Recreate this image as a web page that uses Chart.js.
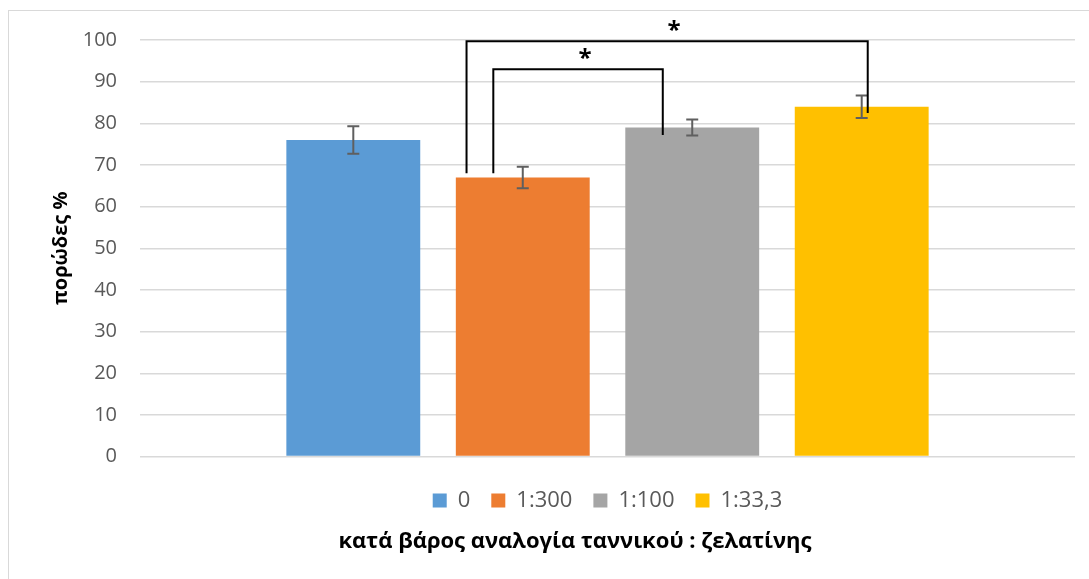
<!DOCTYPE html>
<html>
<head>
<meta charset="utf-8">
<script src="https://cdn.jsdelivr.net/npm/chart.js@4.4.1/dist/chart.umd.min.js"></script>
<style>
  body { margin: 0; background: #fff; }
  #wrap { position: relative; width: 1089px; height: 579px; overflow: hidden; }
  #frame { position: absolute; left: 8px; top: 10px; width: 1200px; height: 700px;
           border-left: 1px solid #d9d9d9; border-top: 1px solid #d9d9d9; }
  canvas { position: absolute; left: 0; top: 0; }
</style>
</head>
<body>
<div id="wrap">
  <div id="frame"></div>
  <canvas id="chart" width="1089" height="579"></canvas>
</div>
<script>
// Data
const categories = [''];
const seriesNames = ['0', '1:300', '1:100', '1:33,3'];
const porosity = [76, 67, 79, 84];
const porosityErr = [3.3, 2.6, 1.9, 2.7];
const colors = ['#5B9BD5', '#ED7D31', '#A5A5A5', '#FFC000'];

// Significance brackets (series index from -> to, values on the y scale)
const bracketFrom = [1, 1];
const bracketTo = [2, 3];
const bracketTop = [93, 99.7];
const bracketFromEnd = [68, 68];
const bracketToEnd = [77.2, 82.5];
const bracketMark = ['*', '*'];

const errorBarPlugin = {
    id: 'errorBars',
    afterDatasetsDraw(chart) {
        const { ctx } = chart;
        const y = chart.scales.y;
        ctx.save();
        ctx.strokeStyle = '#5f5f5f';
        ctx.lineWidth = 2;
        chart.data.datasets.forEach((ds, i) => {
            const bar = chart.getDatasetMeta(i).data[0];
            const v = ds.data[0];
            const top = y.getPixelForValue(v + porosityErr[i]);
            const bot = y.getPixelForValue(v - porosityErr[i]);
            ctx.beginPath();
            ctx.moveTo(bar.x, top); ctx.lineTo(bar.x, bot);
            ctx.moveTo(bar.x - 6, top); ctx.lineTo(bar.x + 6, top);
            ctx.moveTo(bar.x - 6, bot); ctx.lineTo(bar.x + 6, bot);
            ctx.stroke();
        });
        ctx.restore();
    }
};

// leg offsets as a fraction of the bar width
const bracketStyle = { fromOffset: [-0.22, -0.42], toOffset: [-0.22, 0.045] };

const bracketPlugin = {
    id: 'brackets',
    afterDatasetsDraw(chart) {
        const { ctx } = chart;
        const y = chart.scales.y;
        ctx.save();
        ctx.strokeStyle = '#000';
        ctx.lineWidth = 2;
        ctx.fillStyle = '#000';
        ctx.font = 'bold 24px "Open Sans"';
        ctx.textAlign = 'center';
        ctx.textBaseline = 'middle';
        bracketFrom.forEach((from, i) => {
            const a = chart.getDatasetMeta(from).data[0];
            const b = chart.getDatasetMeta(bracketTo[i]).data[0];
            const x1 = a.x + a.width * bracketStyle.fromOffset[i];
            const x2 = b.x + b.width * bracketStyle.toOffset[i];
            const yt = y.getPixelForValue(bracketTop[i]);
            ctx.beginPath();
            ctx.moveTo(x1, y.getPixelForValue(bracketFromEnd[i]));
            ctx.lineTo(x1, yt);
            ctx.lineTo(x2, yt);
            ctx.lineTo(x2, y.getPixelForValue(bracketToEnd[i]));
            ctx.stroke();
            ctx.fillText(bracketMark[i], (x1 + x2) / 2 + 7, yt - 10);
        });
        ctx.restore();
    }
};

// Excel centres the axis title a bit right of the canvas middle
const titleShift = {
    id: 'titleShift',
    afterLayout(chart) {
        chart.titleBlock.left += 45;
    }
};

new Chart(document.getElementById('chart'), {
    type: 'bar',
    data: {
        labels: categories,
        datasets: seriesNames.map((name, i) => ({
            label: name,
            data: [porosity[i]],
            backgroundColor: colors[i],
            borderWidth: 0,
            categoryPercentage: 0.725,
            barPercentage: 0.79
        }))
    },
    options: {
        responsive: false,
        animation: false,
        layout: { padding: { top: 40, right: 14, bottom: 16, left: 30 } },
        scales: {
            x: {
                grid: { display: false },
                border: { display: false },
                ticks: { display: false },
                afterFit(scale) { scale.height = 12; }
            },
            y: {
                min: 0,
                max: 100,
                afterFit(scale) { scale.width = 110; },
                ticks: {
                    stepSize: 10,
                    padding: 23,
                    color: '#595959',
                    font: { family: 'Open Sans', size: 20 }
                },
                grid: { color: '#d9d9d9', lineWidth: 1.5, drawTicks: false },
                border: { display: false },
                title: {
                    display: true,
                    text: 'πορώδες %',
                    color: '#000',
                    font: { family: 'Open Sans', size: 20, weight: 'bold' },
                    padding: { top: 19, bottom: 10 }
                }
            }
        },
        plugins: {
            legend: {
                position: 'bottom',
                fullSize: false,
                labels: {
                    boxWidth: 14,
                    boxHeight: 14,
                    padding: 21,
                    color: '#595959',
                    font: { family: 'Open Sans', size: 22 }
                }
            },
            title: {
                display: true,
                position: 'bottom',
                text: 'κατά βάρος αναλογία ταννικού : ζελατίνης',
                color: '#000',
                font: { family: 'Open Sans', size: 22, weight: 'bold' },
                padding: { top: 7, bottom: 8 }
            },
            tooltip: { enabled: false }
        }
    },
    plugins: [errorBarPlugin, bracketPlugin, titleShift]
});
</script>
</body>
</html>
